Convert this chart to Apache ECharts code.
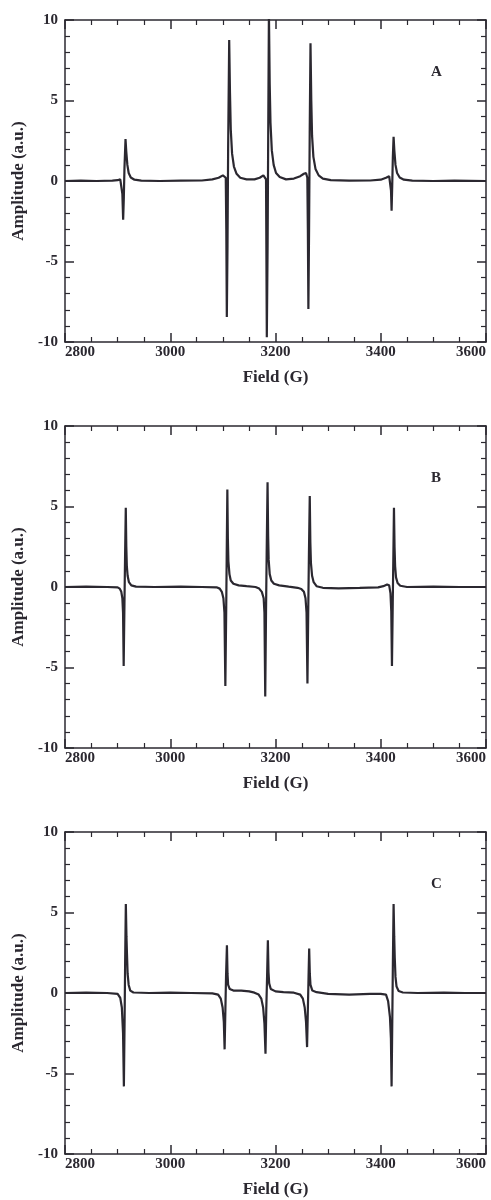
<!DOCTYPE html>
<html>
<head>
<meta charset="utf-8">
<script src="https://cdn.jsdelivr.net/npm/echarts@6/dist/echarts.min.js"></script>
<style>
html,body{margin:0;padding:0;background:#fff;}
#chart{width:491px;height:1200px;}
</style>
</head>
<body>
<div id="chart"></div>
<script>
// ---- Data ----
const panelLabels = ['A', 'B', 'C'];
const xTicks = [2800, 3000, 3200, 3400, 3600];
const yTicks = [-10, -5, 0, 5, 10];

const fieldA = [2800,2830,2860,2890,2900,2905,2907.5,2909,2910.5,2911.8,2913,2915,2916.5,2918.5,2921,2925,2932,2945,2980,3020,3060,3080,3092,3100,3103.5,3105.5,3106.5,3107.5,3108.8,3110,3112,3113.5,3115,3117.5,3121,3126,3133,3145,3160,3170,3177,3180,3182,3183.5,3185,3186,3187.5,3189,3190.5,3193,3196.5,3201,3208,3220,3235,3247,3254,3258,3260.5,3261.5,3262.5,3263.8,3265,3266.5,3268,3269.5,3272,3276,3282,3290,3305,3340,3380,3400,3410,3416,3418.5,3419.5,3420.6,3421.8,3423,3424.4,3425.8,3428,3431,3436,3444,3460,3500,3540,3600];
const ampA   = [0,0.02,0,0.02,0.05,0.1,0.05,-0.8,-2.4,-1.0,0.8,2.6,1.8,1.0,0.5,0.22,0.08,0.02,0,0.02,0.03,0.1,0.2,0.35,0.45,0.2,-3,-8.45,-4,2,8.75,5.5,3.2,1.7,0.9,0.45,0.2,0.1,0.1,0.2,0.35,0.45,0.1,-9.7,-4,2,10.5,6,3.6,1.9,1.0,0.5,0.25,0.1,0.15,0.3,0.45,0.5,0.2,-3,-7.95,-3,3,8.55,5,2.8,1.5,0.75,0.35,0.15,0.05,0.02,0.03,0.08,0.2,0.3,0.2,-0.6,-1.85,-0.3,1.5,2.75,1.9,1.0,0.5,0.22,0.08,0.02,0,0.02,0];

const fieldB = [2800,2840,2880,2900,2904,2907,2909,2910.3,2911.5,2913,2914.2,2915.5,2916.5,2917.5,2919,2921.5,2926,2935,2970,3020,3060,3088,3094,3098,3101,3103,3104.7,3106.3,3107.3,3108.5,3109.5,3110.5,3112.5,3115,3120,3130,3145,3162,3169,3174,3177.5,3179,3180.5,3182,3183.2,3184.9,3186,3187,3189,3192,3197,3207,3225,3242,3249,3254,3257,3259,3260.7,3262.2,3263.5,3265.1,3266.2,3267.3,3269.5,3272.5,3278,3290,3320,3360,3395,3405,3412,3416,3418.5,3420,3421.3,3422.8,3424,3425.1,3426.2,3427.3,3429,3432,3437,3450,3500,3550,3600];
const ampB   = [0,0.02,0,-0.02,-0.1,-0.3,-0.7,-1.6,-4.9,-1,2,4.92,2.5,1.3,0.7,0.3,0.1,0.02,0,0.02,0,-0.02,-0.1,-0.3,-0.7,-1.6,-6.15,-1.5,2,6.05,3,1.6,0.8,0.4,0.2,0.1,0.05,0,-0.1,-0.3,-0.7,-1.6,-6.8,-1.5,2,6.5,3.2,1.7,0.8,0.4,0.2,0.1,0.02,-0.05,-0.12,-0.3,-0.7,-1.6,-6,-1.5,2,5.65,2.8,1.5,0.7,0.3,0.05,-0.05,-0.08,-0.05,-0.02,0.05,0.15,0.1,-0.4,-1.5,-4.9,-1,2,4.92,2.5,1.3,0.6,0.25,0.08,0,0.02,0,0];

const fieldC = [2800,2840,2880,2900,2905,2908,2910.3,2911.9,2913.3,2914.3,2915.6,2916.8,2917.8,2919,2921,2924,2930,2960,3000,3040,3080,3091,3096,3099.5,3101.8,3103.3,3104.8,3106,3107.7,3108.8,3110,3113,3120,3135,3150,3160,3168,3173,3176.5,3179,3181,3182.5,3184,3185.5,3186.7,3188,3191,3200,3215,3235,3247,3252,3255.5,3258,3260,3261.5,3262.8,3264,3265.2,3266.5,3270,3278,3300,3340,3380,3400,3410,3414,3417.5,3419.3,3420.6,3422,3423.1,3424.4,3425.6,3426.6,3428,3430,3434,3442,3470,3520,3560,3600];
const ampC   = [0,0.02,0,-0.05,-0.3,-0.9,-2.5,-5.8,-1.5,2,5.52,3.5,2.4,1.2,0.5,0.15,0.03,0,0.02,0,-0.02,-0.1,-0.35,-0.9,-1.8,-3.5,-1,1,2.97,1.2,0.5,0.25,0.15,0.15,0.1,0.02,-0.1,-0.35,-0.9,-1.9,-3.77,-1,1,3.28,1.3,0.6,0.25,0.1,0.05,0.02,-0.1,-0.35,-0.9,-1.8,-3.36,-1,1,2.76,1.2,0.5,0.15,0.05,-0.05,-0.1,-0.05,-0.05,-0.1,-0.5,-1.5,-2.8,-5.8,-1.5,2,5.52,3.5,2.2,1.0,0.4,0.12,0.03,0,0.02,0,0];

const fields = [fieldA, fieldB, fieldC];
const amps = [ampA, ampB, ampC];

// ---- Layout ----
const gridTops = [20, 426, 832];
const gridH = 322;
const FONT = '"Liberation Serif", "DejaVu Serif", serif';
const INK = '#2b2830';

const grids = [], xAxes = [], yAxes = [], series = [], graphics = [];
gridTops.forEach((top, i) => {
  grids.push({left: 65, right: 5, top: top, height: gridH});
  const tickCommon = {
    axisLine: {show: true, onZero: false, lineStyle: {color: INK, width: 1.5}},
    axisTick: {show: true, inside: true, length: 9, lineStyle: {color: INK, width: 1.5}},
    splitLine: {show: false}, minorSplitLine: {show: false}
  };
  const xMinor = {minorTick: {show: true, splitNumber: 4, length: 5, lineStyle: {color: INK, width: 1.2}}};
  const yMinor = {minorTick: {show: true, splitNumber: 5, length: 5, lineStyle: {color: INK, width: 1.2}}};
  xAxes.push(Object.assign({
    type: 'value', gridIndex: i, position: 'bottom', min: xTicks[0], max: xTicks[xTicks.length-1], interval: 200,
    name: 'Field (G)', nameLocation: 'middle', nameGap: 27,
    nameTextStyle: {fontFamily: FONT, fontWeight: 'bold', fontSize: 17, color: INK},
    axisLabel: {fontFamily: FONT, fontWeight: 'bold', fontSize: 15, color: INK, margin: 3,
      alignMinLabel: 'left', alignMaxLabel: 'right', formatter: v => String(v)}
  }, tickCommon, xMinor));
  xAxes.push(Object.assign({
    type: 'value', gridIndex: i, position: 'top', min: xTicks[0], max: xTicks[xTicks.length-1], interval: 200,
    axisLabel: {show: false}
  }, tickCommon, xMinor));
  yAxes.push(Object.assign({
    type: 'value', gridIndex: i, position: 'left', min: yTicks[0], max: yTicks[yTicks.length-1], interval: 5,
    name: 'Amplitude (a.u.)', nameLocation: 'middle', nameGap: 32,
    nameTextStyle: {fontFamily: FONT, fontWeight: 'bold', fontSize: 17, color: INK},
    axisLabel: {fontFamily: FONT, fontWeight: 'bold', fontSize: 15, color: INK, margin: 7, formatter: v => String(v)}
  }, tickCommon, yMinor));
  yAxes.push(Object.assign({
    type: 'value', gridIndex: i, position: 'right', min: yTicks[0], max: yTicks[yTicks.length-1], interval: 5,
    axisLabel: {show: false}
  }, tickCommon, yMinor));
  series.push({
    type: 'line', xAxisIndex: i*2, yAxisIndex: i*2, showSymbol: false, symbol: 'none',
    clip: true, animation: false,
    lineStyle: {color: INK, width: 2.2},
    data: fields[i].map((f, k) => [f, amps[i][k]])
  });
  graphics.push({
    type: 'text', left: 431, top: top + 45,
    style: {text: panelLabels[i], fontFamily: FONT, fontWeight: 'bold', fontSize: 15, fill: INK}
  });
});

const chart = echarts.init(document.getElementById('chart'), null, {renderer: 'canvas'});
chart.setOption({
  animation: false,
  backgroundColor: '#fff',
  grid: grids, xAxis: xAxes, yAxis: yAxes, series: series, graphic: graphics
});
</script>
</body>
</html>
